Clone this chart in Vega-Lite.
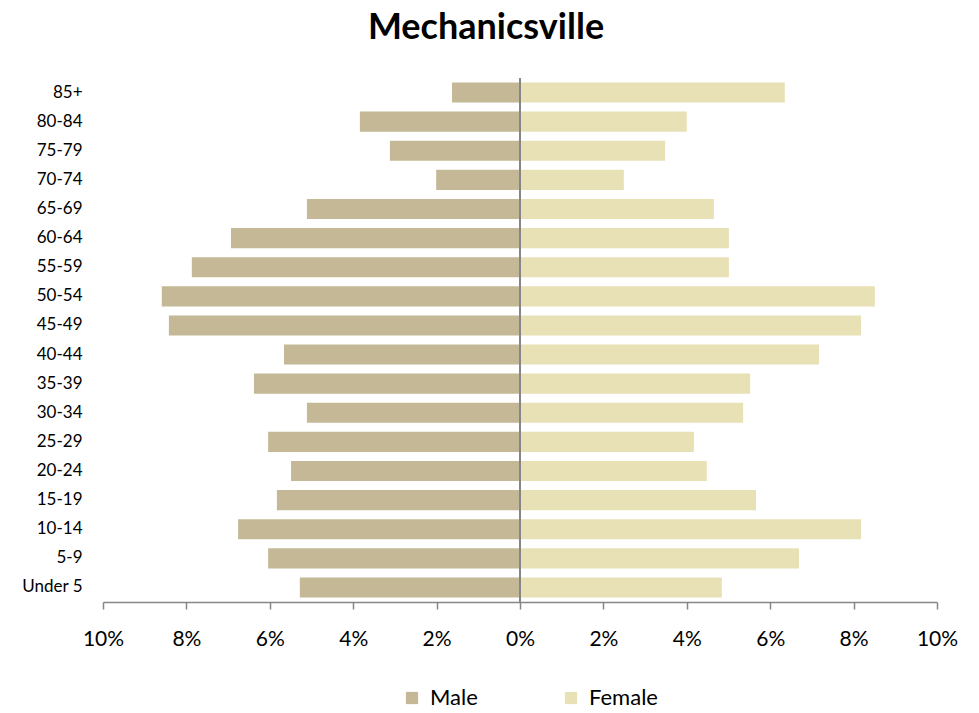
{
  "$schema": "https://vega.github.io/schema/vega-lite/v6.json",
  "width": 834,
  "height": 524,
  "autosize": "none",
  "padding": {"left": 103, "top": 78, "right": 42, "bottom": 111},
  "background": "white",
  "config": {
    "view": {"stroke": null},
    "font": "Lato"
  },
  "title": {
    "text": "Mechanicsville",
    "font": "Lato",
    "fontSize": 36,
    "fontWeight": "bold",
    "color": "#000000",
    "anchor": "middle",
    "frame": "group",
    "dx": -34,
    "offset": 30
  },
  "data": {
    "values": [
      {"age": "85+", "sex": "Male", "pct": -1.63},
      {"age": "80-84", "sex": "Male", "pct": -3.84},
      {"age": "75-79", "sex": "Male", "pct": -3.12},
      {"age": "70-74", "sex": "Male", "pct": -2.01},
      {"age": "65-69", "sex": "Male", "pct": -5.11},
      {"age": "60-64", "sex": "Male", "pct": -6.93},
      {"age": "55-59", "sex": "Male", "pct": -7.87},
      {"age": "50-54", "sex": "Male", "pct": -8.59},
      {"age": "45-49", "sex": "Male", "pct": -8.42},
      {"age": "40-44", "sex": "Male", "pct": -5.66},
      {"age": "35-39", "sex": "Male", "pct": -6.38},
      {"age": "30-34", "sex": "Male", "pct": -5.11},
      {"age": "25-29", "sex": "Male", "pct": -6.04},
      {"age": "20-24", "sex": "Male", "pct": -5.49},
      {"age": "15-19", "sex": "Male", "pct": -5.83},
      {"age": "10-14", "sex": "Male", "pct": -6.76},
      {"age": "5-9", "sex": "Male", "pct": -6.04},
      {"age": "Under 5", "sex": "Male", "pct": -5.28},
      {"age": "85+", "sex": "Female", "pct": 6.35},
      {"age": "80-84", "sex": "Female", "pct": 4.0},
      {"age": "75-79", "sex": "Female", "pct": 3.48},
      {"age": "70-74", "sex": "Female", "pct": 2.49},
      {"age": "65-69", "sex": "Female", "pct": 4.65},
      {"age": "60-64", "sex": "Female", "pct": 5.01},
      {"age": "55-59", "sex": "Female", "pct": 5.01},
      {"age": "50-54", "sex": "Female", "pct": 8.51},
      {"age": "45-49", "sex": "Female", "pct": 8.18},
      {"age": "40-44", "sex": "Female", "pct": 7.17},
      {"age": "35-39", "sex": "Female", "pct": 5.52},
      {"age": "30-34", "sex": "Female", "pct": 5.35},
      {"age": "25-29", "sex": "Female", "pct": 4.17},
      {"age": "20-24", "sex": "Female", "pct": 4.48},
      {"age": "15-19", "sex": "Female", "pct": 5.66},
      {"age": "10-14", "sex": "Female", "pct": 8.18},
      {"age": "5-9", "sex": "Female", "pct": 6.69},
      {"age": "Under 5", "sex": "Female", "pct": 4.84}
    ]
  },
  "layer": [
    {
      "mark": {"type": "bar"},
      "encoding": {
        "y": {
          "field": "age",
          "type": "nominal",
          "sort": ["85+","80-84","75-79","70-74","65-69","60-64","55-59","50-54","45-49","40-44","35-39","30-34","25-29","20-24","15-19","10-14","5-9","Under 5"],
          "scale": {"paddingInner": 0.31, "paddingOuter": 0.155},
          "axis": {
            "title": null,
            "domain": false,
            "ticks": false,
            "labelFont": "Lato",
            "labelFontSize": 17,
            "labelColor": "#000000",
            "labelPadding": 21
          }
        },
        "x": {
          "field": "pct",
          "type": "quantitative",
          "stack": null,
          "scale": {"domain": [-10, 10], "nice": false},
          "axis": {
            "title": null,
            "values": [-10,-8,-6,-4,-2,0,2,4,6,8,10],
            "labelExpr": "abs(datum.value) + '%'",
            "labelFlush": false,
            "labelOverlap": false,
            "grid": false,
            "domainColor": "#868686",
            "domainWidth": 1.5,
            "tickColor": "#868686",
            "tickWidth": 1.5,
            "tickSize": 7,
            "labelFont": "Lato",
            "labelFontSize": 21,
            "labelColor": "#000000",
            "labelPadding": 19
          }
        },
        "color": {
          "field": "sex",
          "type": "nominal",
          "scale": {"domain": ["Male","Female"], "range": ["#C4B896","#E8E1B6"]},
          "legend": {
            "title": null,
            "orient": "none",
            "legendX": 298,
            "legendY": 609,
            "direction": "horizontal",
            "symbolType": "square",
            "symbolSize": 150,
            "symbolStrokeWidth": 0,
            "labelFont": "Lato",
            "labelFontSize": 22,
            "labelColor": "#000000",
            "labelOffset": 7,
            "columnPadding": 82
          }
        }
      }
    },
    {
      "mark": {"type": "rule", "color": "#868686", "strokeWidth": 1.5},
      "encoding": {"x": {"datum": 0}}
    }
  ]
}
